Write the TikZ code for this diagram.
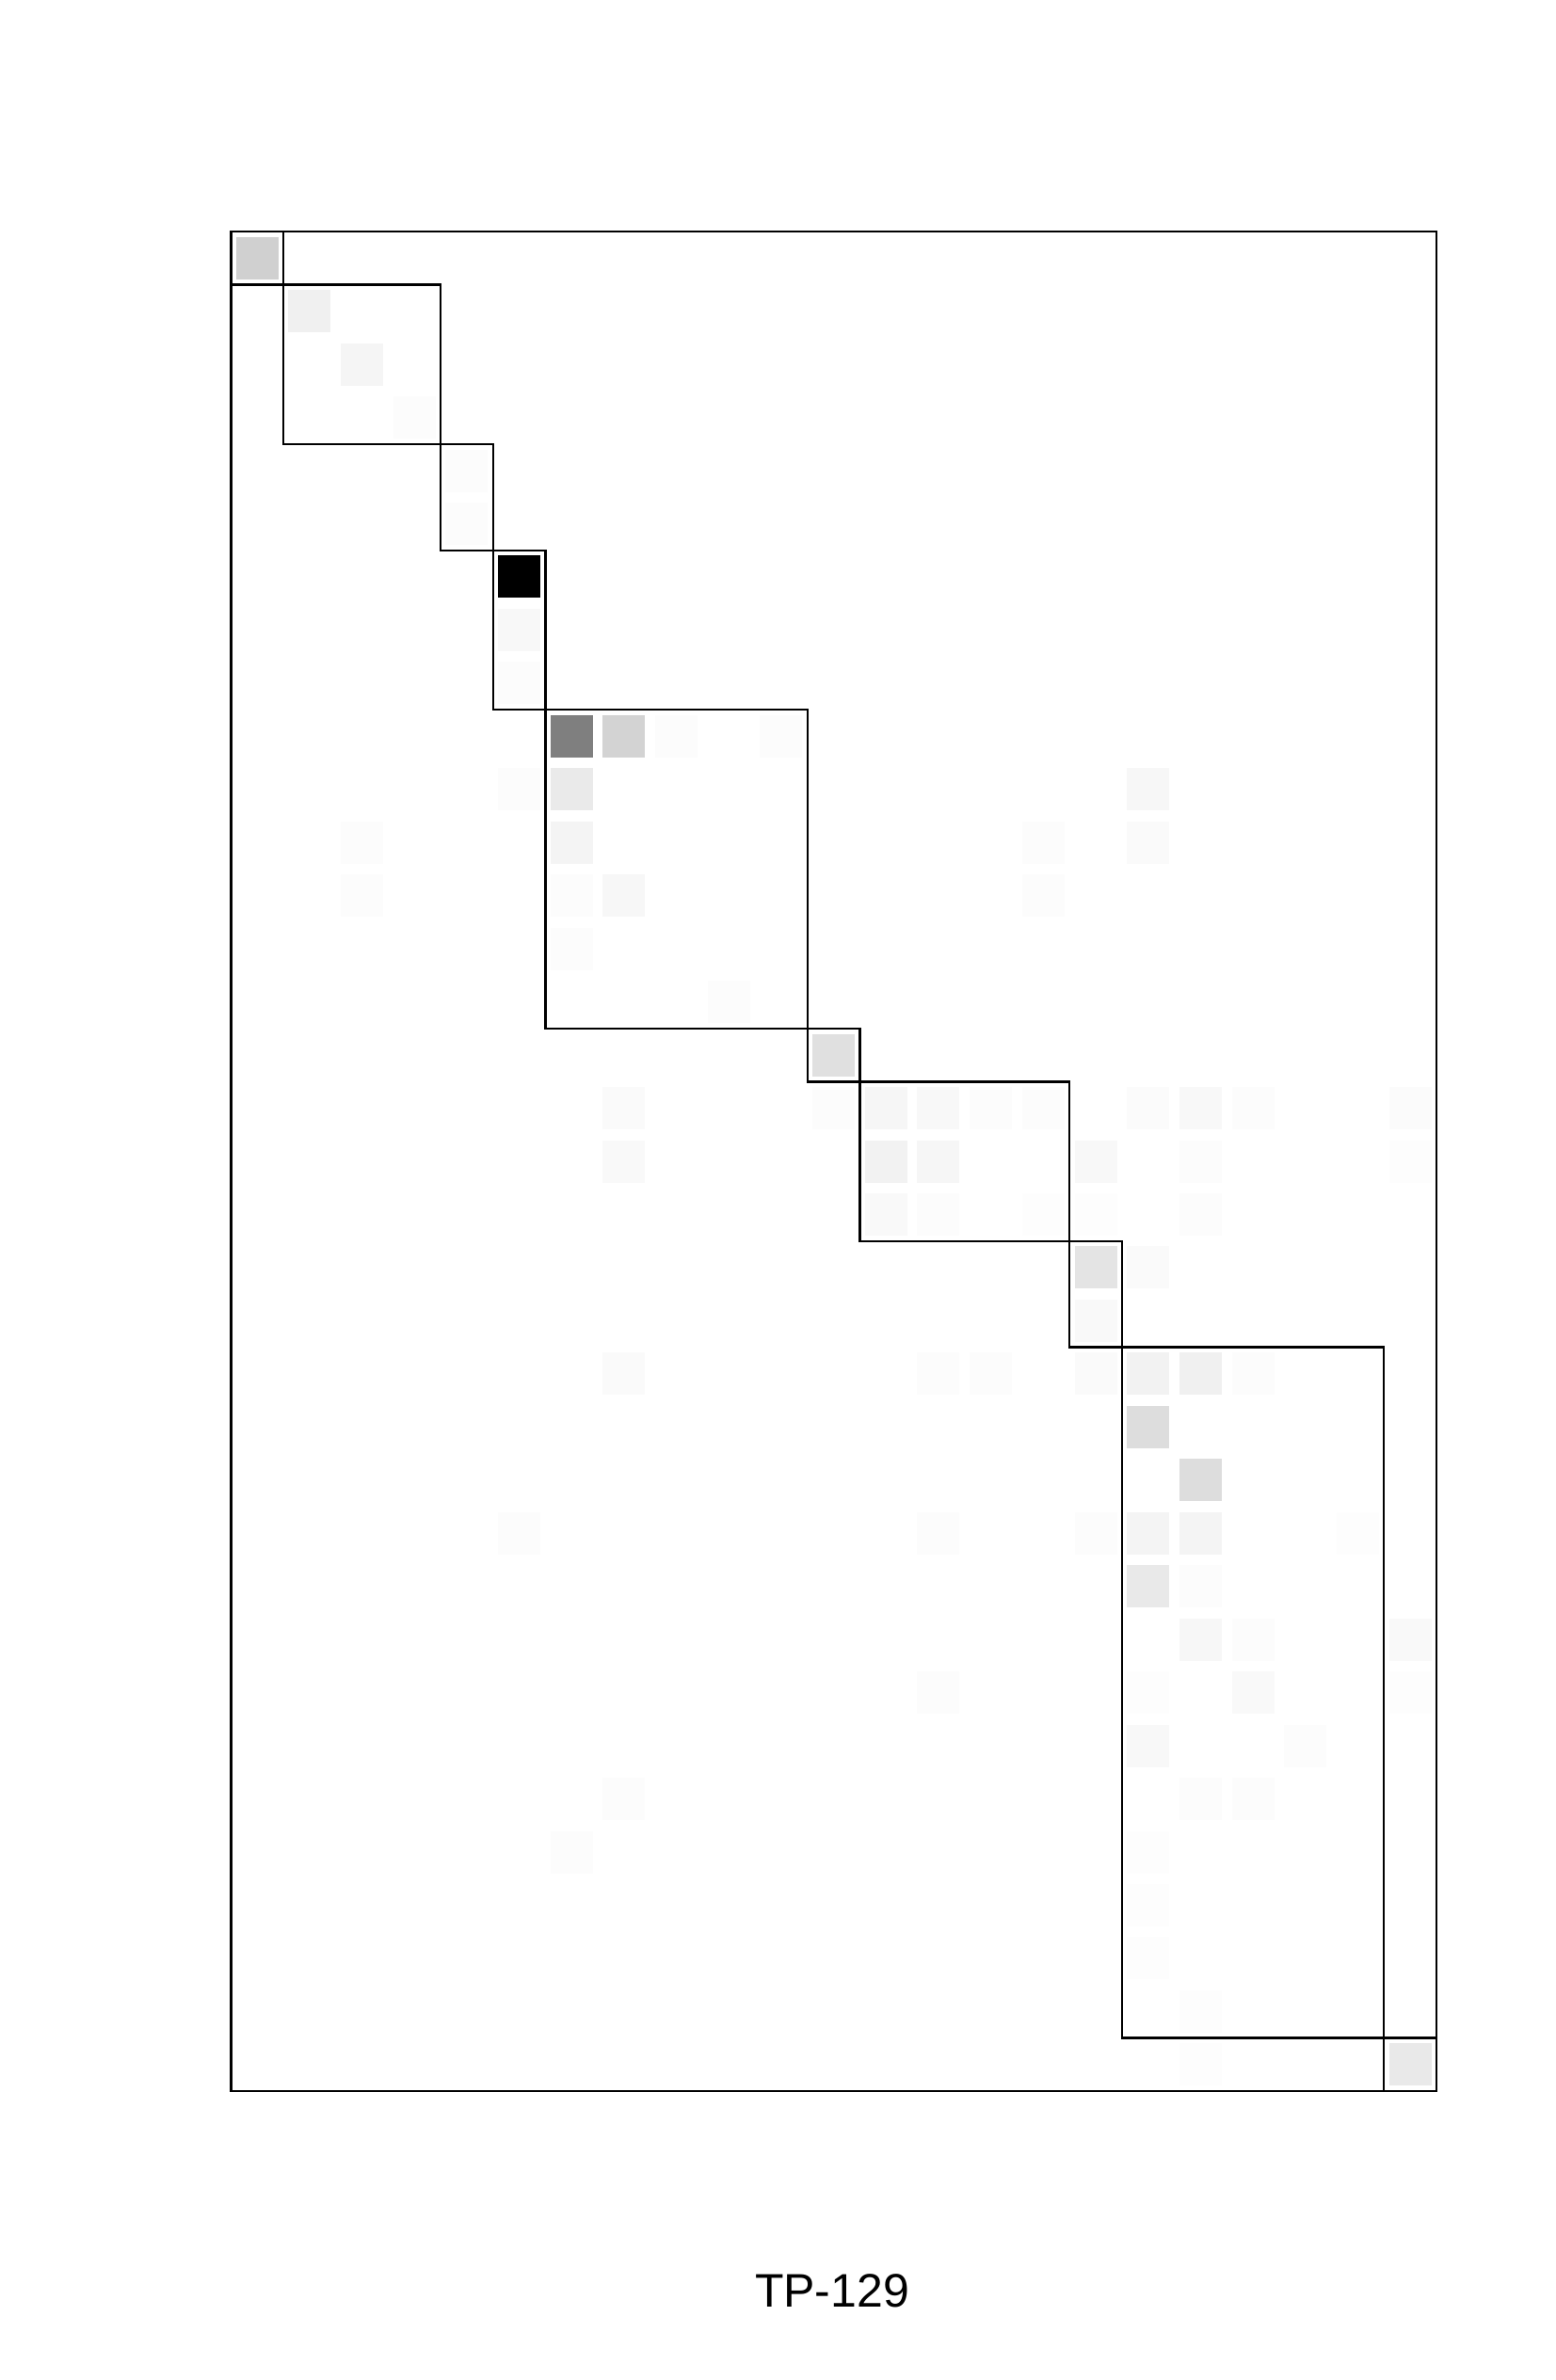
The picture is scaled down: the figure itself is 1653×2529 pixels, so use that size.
\documentclass[tikz,border=0pt]{standalone}
\usepackage{fontspec}
\setmainfont{Liberation Sans}
\newcommand\cellsq[3]{\fill[fill={rgb,255:red,#3;green,#3;blue,#3}] ({245.3+55.68*#1+5.34},{246+56.46*#2+5.73}) rectangle ++(45,45);}
\newcommand\blockrect[4]{\draw[blockline] ({245.3+55.68*#1},{246+56.46*#2}) rectangle ({245.3+55.68*#3},{246+56.46*#4});}
\begin{document}
\begin{tikzpicture}[x=1pt,y=-1pt,blockline/.style={draw=black,line width=2.4pt}]
\useasboundingbox[fill=white] (0,0) rectangle (1653,2529);
% cells
\cellsq{0}{0}{208}
\cellsq{1}{1}{240}
\cellsq{2}{2}{245}
\cellsq{3}{3}{252}
\cellsq{4}{4}{252}
\cellsq{4}{5}{252}
\cellsq{5}{6}{0}
\cellsq{5}{7}{248}
\cellsq{5}{8}{252}
\cellsq{6}{9}{127}\cellsq{7}{9}{211}\cellsq{8}{9}{252}\cellsq{10}{9}{252}
\cellsq{5}{10}{252}\cellsq{6}{10}{234}\cellsq{17}{10}{247}
\cellsq{2}{11}{252}\cellsq{6}{11}{244}\cellsq{15}{11}{252}\cellsq{17}{11}{250}
\cellsq{2}{12}{252}\cellsq{6}{12}{252}\cellsq{7}{12}{247}\cellsq{15}{12}{252}
\cellsq{6}{13}{252}
\cellsq{9}{14}{252}
\cellsq{11}{15}{224}
\cellsq{7}{16}{250}\cellsq{11}{16}{252}\cellsq{12}{16}{246}\cellsq{13}{16}{248}\cellsq{14}{16}{252}\cellsq{15}{16}{252}\cellsq{17}{16}{251}\cellsq{18}{16}{248}\cellsq{19}{16}{252}\cellsq{22}{16}{251}
\cellsq{7}{17}{249}\cellsq{12}{17}{242}\cellsq{13}{17}{246}\cellsq{16}{17}{248}\cellsq{18}{17}{252}\cellsq{22}{17}{253}
\cellsq{12}{18}{249}\cellsq{13}{18}{252}\cellsq{15}{18}{253}\cellsq{16}{18}{253}\cellsq{18}{18}{252}
\cellsq{16}{19}{228}\cellsq{17}{19}{250}
\cellsq{16}{20}{249}
\cellsq{7}{21}{250}\cellsq{13}{21}{252}\cellsq{14}{21}{252}\cellsq{16}{21}{250}\cellsq{17}{21}{242}\cellsq{18}{21}{240}\cellsq{19}{21}{252}
\cellsq{17}{22}{221}
\cellsq{18}{23}{221}
\cellsq{5}{24}{252}\cellsq{13}{24}{252}\cellsq{16}{24}{252}\cellsq{17}{24}{244}\cellsq{18}{24}{244}\cellsq{21}{24}{253}
\cellsq{17}{25}{233}\cellsq{18}{25}{252}
\cellsq{18}{26}{247}\cellsq{19}{26}{252}\cellsq{22}{26}{249}
\cellsq{13}{27}{252}\cellsq{17}{27}{253}\cellsq{19}{27}{249}\cellsq{22}{27}{253}
\cellsq{17}{28}{248}\cellsq{20}{28}{252}
\cellsq{7}{29}{252}\cellsq{18}{29}{252}\cellsq{19}{29}{252}
\cellsq{6}{30}{252}\cellsq{17}{30}{253}
\cellsq{17}{31}{253}
\cellsq{17}{32}{253}
\cellsq{18}{33}{253}
\cellsq{18}{34}{253}\cellsq{22}{34}{233}
% blocks
\blockrect{0}{0}{1}{1}
\blockrect{1}{1}{4}{4}
\blockrect{4}{4}{5}{6}
\blockrect{5}{6}{6}{9}
\blockrect{6}{9}{11}{15}
\blockrect{11}{15}{12}{16}
\blockrect{12}{16}{16}{19}
\blockrect{16}{19}{17}{21}
\blockrect{17}{21}{22}{34}
\blockrect{22}{34}{23}{35}
\blockrect{0}{0}{23}{35}
% label
\node[font=\fontsize{50}{60}\selectfont, anchor=base, inner sep=0pt] (title) at (884,2451) {TP-129};
\end{tikzpicture}
\end{document}
